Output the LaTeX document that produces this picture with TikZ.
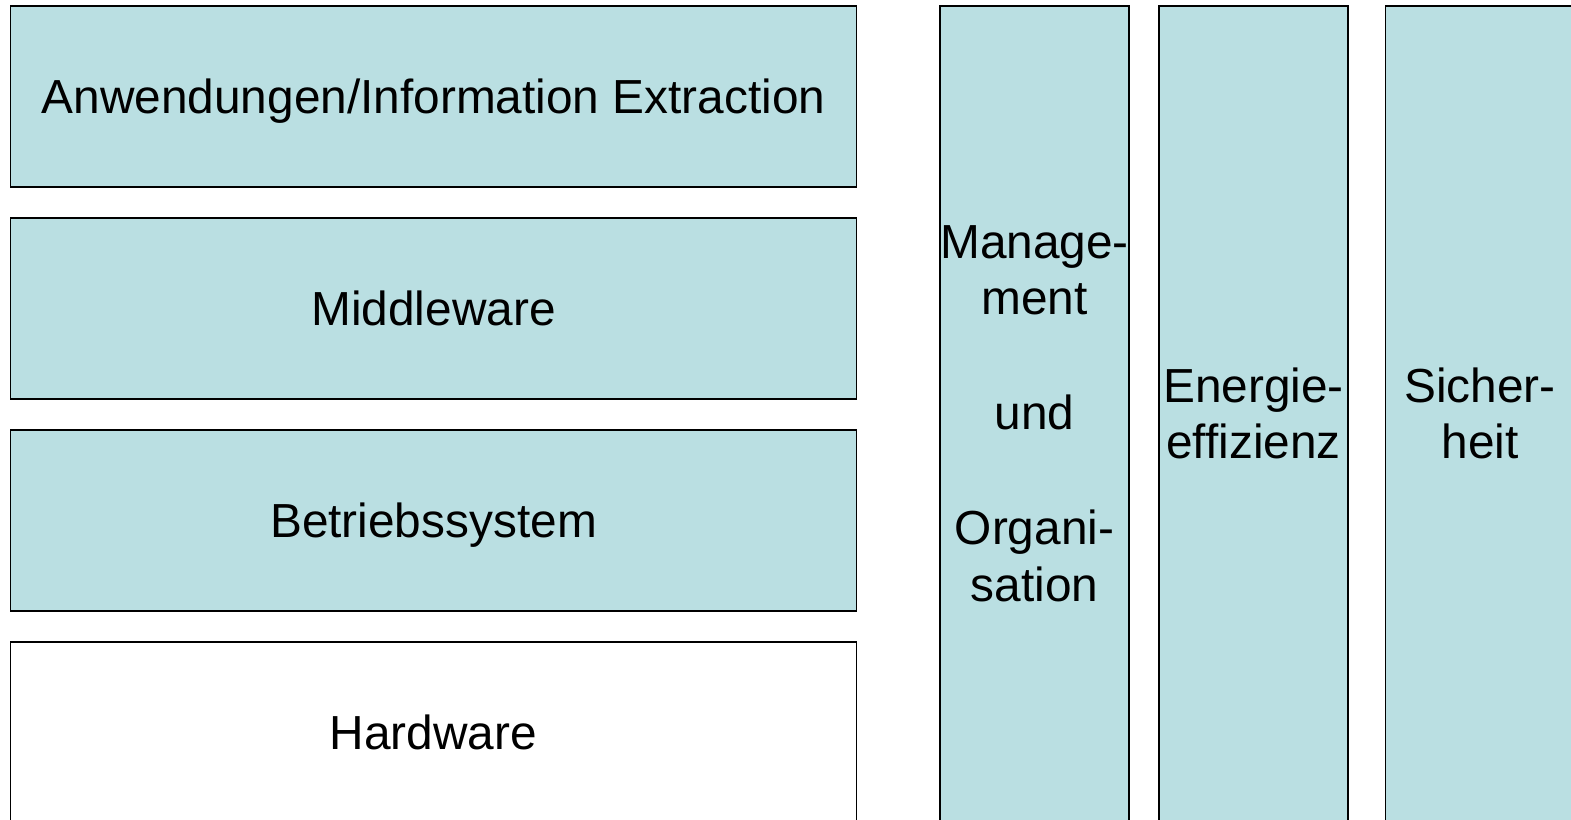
\documentclass[tikz,border=0pt]{standalone}
\usepackage{fontspec}
\setmainfont{Liberation Sans}
\usetikzlibrary{positioning}
\definecolor{layerblue}{RGB}{186,223,226}

\begin{document}
\begin{tikzpicture}[x=0.2mm, y=-0.2mm,
  layer/.style={draw, rectangle, line width=1.1pt, fill=layerblue,
    minimum width=169.2mm, minimum height=36.2mm, inner sep=0pt,
    text height=19.5pt, text depth=0pt,
    font=\fontsize{27.2pt}{32.3pt}\selectfont},
  pillar/.style={draw, rectangle, line width=1.1pt, fill=layerblue,
    minimum width=37.8mm, minimum height=163mm, inner sep=0pt, align=center,
    font=\fontsize{27.2pt}{32.3pt}\selectfont}
]
\useasboundingbox (0,0) rectangle (1571,819);
\clip (0,0) rectangle (1571,819);

% layer stack
\node[layer] (apps) at (433.5,96.5) {Anwendungen/Information Extraction};
\node[layer, below=5.8mm of apps] (middleware) {Middleware};
\node[layer, below=5.8mm of middleware] (os) {Betriebssystem};
\node[layer, fill=white, below=5.8mm of os] (hardware) {Hardware};

% cross-cutting pillars
\node[pillar] (mgmt) at (1034.5,413.5)
  {Manage-\\ment\\[33pt]und\\[33pt]Organi-\\sation};
\node[pillar] (energy) at (1253.5,413.5) {Energie-\\effizienz};
\node[pillar] (security) at (1480,413.5) {Sicher-\\heit};

\end{tikzpicture}
\end{document}
